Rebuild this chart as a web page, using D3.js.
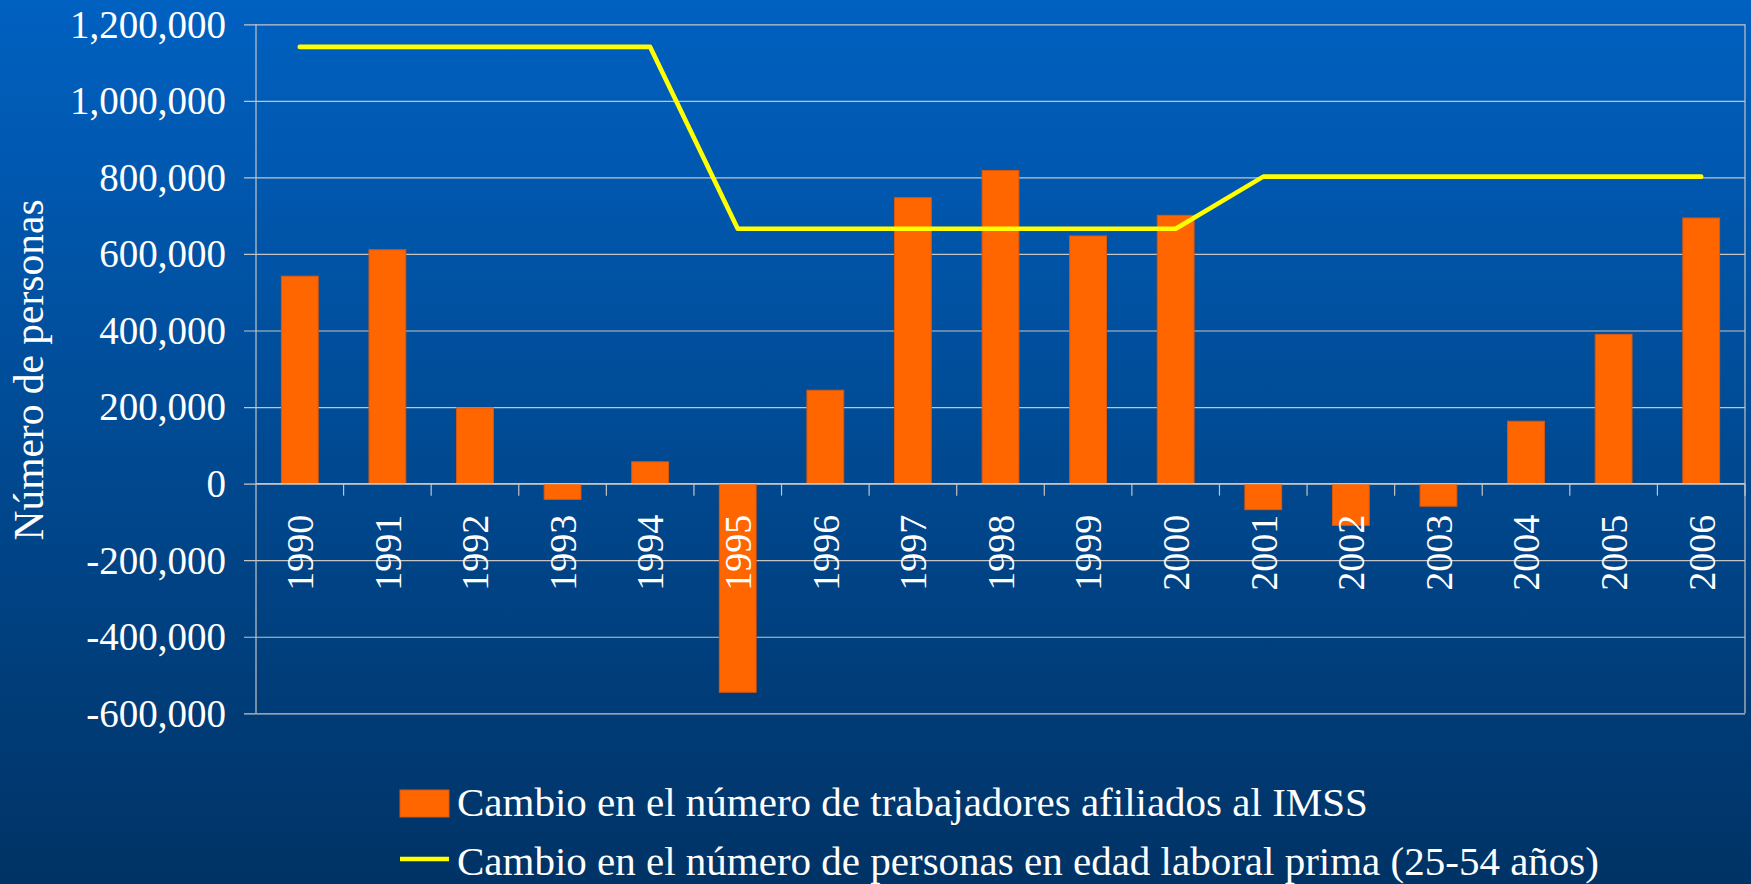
<!DOCTYPE html>
<html>
<head>
<meta charset="utf-8">
<script src="https://cdn.jsdelivr.net/npm/d3@7"></script>
<style>
    body { margin: 0; background: #003366; }
    svg { display: block; }
    text { font-family: "Liberation Serif", "Times New Roman", serif; fill: #ffffff; }
</style>
</head>
<body>
<svg id="chart" width="1751" height="884"></svg>
<script>
// Data
let years = ["1990","1991","1992","1993","1994","1995","1996","1997","1998",
             "1999","2000","2001","2002","2003","2004","2005","2006"];
let afiliadosImss = [542000, 611000, 198000, -41000, 57000, -545000, 244000, 747000, 818000,
                     647000, 701000, -68000, -109000, -59000, 163000, 390000, 694000];
let edadLaboral = [1141000, 1141000, 1141000, 1141000, 1141000, 666000, 666000, 666000, 666000,
                   666000, 666000, 802000, 802000, 802000, 802000, 802000, 802000];
let yTicks = [-600000, -400000, -200000, 0, 200000, 400000, 600000, 800000, 1000000, 1200000];
let legendLabels = ["Cambio en el número de trabajadores afiliados al IMSS",
                    "Cambio en el número de personas en edad laboral prima (25-54 años)"];

let width = 1751, height = 884;
let plot = { left: 256, right: 1745, top: 24.3, bottom: 713.3 };
let gridColor = "#c4c4c4";

let svg = d3.select("#chart");

// background gradient, lighter blue at top
let grad = svg.append("defs").append("linearGradient")
    .attr("id", "bg").attr("x1", 0).attr("y1", 0).attr("x2", 0).attr("y2", 1);
grad.append("stop").attr("offset", "0%").attr("stop-color", "#0061c1");
grad.append("stop").attr("offset", "100%").attr("stop-color", "#003365");
svg.append("rect").attr("width", width).attr("height", height).attr("fill", "url(#bg)");

let x = d3.scaleBand().domain(years).range([plot.left, plot.right]).padding(0);
let y = d3.scaleLinear().domain([-600000, 1200000]).range([plot.bottom, plot.top]);
let barWidth = x.step() * 0.42;

// Grid lines + y axis labels (plain hyphen for negatives, like the original)
let fmt = d3.format(",");
let yAxis = d3.axisLeft(y).tickValues(yTicks)
    .tickFormat(d => fmt(d).replace("\u2212", "-"))
    .tickSize(-(plot.right - plot.left + 12));

let gy = svg.append("g")
    .attr("transform", "translate(" + (plot.left - 12) + ",0)")
    .call(yAxis);
gy.select(".domain").remove();
gy.selectAll(".tick line").attr("stroke", gridColor).attr("stroke-width", 1.2);
gy.selectAll(".tick text").attr("font-size", 39)
    .attr("x", -18).attr("dy", "0.33em");

// plot frame: left axis line and right border
svg.append("line").attr("x1", plot.left).attr("x2", plot.left)
    .attr("y1", plot.top).attr("y2", plot.bottom)
    .attr("stroke", gridColor).attr("stroke-width", 1.2);
svg.append("line").attr("x1", plot.right).attr("x2", plot.right)
    .attr("y1", plot.top).attr("y2", plot.bottom)
    .attr("stroke", gridColor).attr("stroke-width", 1.2);

// Bars
svg.append("g").selectAll("rect")
    .data(afiliadosImss)
    .join("rect")
    .attr("x", (d, i) => x(years[i]) + (x.step() - barWidth) / 2)
    .attr("y", d => y(Math.max(0, d)))
    .attr("width", barWidth)
    .attr("height", d => Math.abs(y(d) - y(0)))
    .attr("fill", "#ff6600")
    .attr("stroke", "#d9590f")
    .attr("stroke-width", 1);

// x axis at zero, ticks between categories
let boundaries = years.map(yr => x(yr)).slice(1).concat([plot.right]);
let gx = svg.append("g");
gx.append("line").attr("x1", plot.left).attr("x2", plot.right)
    .attr("y1", y(0)).attr("y2", y(0))
    .attr("stroke", gridColor).attr("stroke-width", 1.2);
gx.selectAll(".tk").data(boundaries).join("line")
    .attr("class", "tk")
    .attr("x1", d => d).attr("x2", d => d)
    .attr("y1", y(0)).attr("y2", y(0) + 12)
    .attr("stroke", gridColor).attr("stroke-width", 1.2);

// rotated year labels
gx.selectAll("text").data(years).join("text")
    .attr("transform", d => "translate(" + (x(d) + x.step() / 2) + "," + (y(0) + 31) + ") rotate(-90)")
    .attr("text-anchor", "end")
    .attr("dy", "0.35em")
    .attr("font-size", 38)
    .text(d => d);

// Line series
let line = d3.line()
    .x((d, i) => x(years[i]) + x.step() / 2)
    .y(d => y(d));

svg.append("path")
    .datum(edadLaboral)
    .attr("d", line)
    .attr("fill", "none")
    .attr("stroke", "#ffff00")
    .attr("stroke-width", 4.6)
    .attr("stroke-linejoin", "round")
    .attr("stroke-linecap", "round");

// Y axis title
svg.append("text")
    .attr("transform", "translate(28," + 370 + ") rotate(-90)")
    .attr("text-anchor", "middle")
    .attr("dy", "0.35em")
    .attr("font-size", 41.5)
    .text("Número de personas");

// Legend
let legend = svg.append("g");
legend.append("rect")
    .attr("x", 400).attr("y", 790).attr("width", 49).attr("height", 27)
    .attr("fill", "#ff6600").attr("stroke", "#d9590f").attr("stroke-width", 1);
legend.append("text").attr("x", 457).attr("y", 816).attr("font-size", 41).text(legendLabels[0]);
legend.append("line")
    .attr("x1", 400).attr("x2", 449).attr("y1", 859).attr("y2", 859)
    .attr("stroke", "#ffff00").attr("stroke-width", 4.6);
legend.append("text").attr("x", 457).attr("y", 875).attr("font-size", 41).text(legendLabels[1]);
</script>
</body>
</html>
